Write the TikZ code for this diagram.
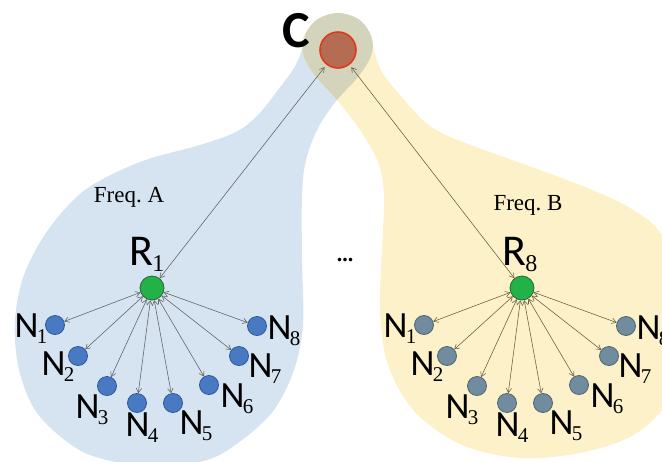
\documentclass[tikz,border=0pt]{standalone}
\usepackage{fontspec}
\setmainfont{Liberation Serif}
\newfontfamily\calib{Carlito}
\usetikzlibrary{arrows.meta}
\definecolor{blobblue}{RGB}{214,227,241}
\definecolor{blobyel}{RGB}{252,241,200}
\definecolor{blobmix}{RGB}{212,211,187}
\definecolor{nblue}{RGB}{72,122,196}
\definecolor{nbluedk}{RGB}{48,88,150}
\definecolor{ngray}{RGB}{112,140,158}
\definecolor{ngraydk}{RGB}{78,102,118}
\definecolor{rgreen}{RGB}{34,178,72}
\definecolor{rgreendk}{RGB}{40,100,60}
\definecolor{cfill}{RGB}{182,108,82}
\definecolor{cborder}{RGB}{222,58,32}
\definecolor{arrgray}{RGB}{95,95,95}
\definecolor{arrolive}{RGB}{105,92,60}
\newcommand\bluepath{plot[smooth cycle,tension=0.55] coordinates {(338,13) (318,19) (306,33) (302,50) (294,68) (278,90) (258,115) (236,132) (200,145) (140,162) (85,190) (48,230) (24,275) (15,320) (18,365) (32,405) (55,432) (90,455) (150,467) (207,460) (242,440) (274,410) (294,370) (303,325) (302,260) (302,195) (306,160) (318,128) (337,100) (358,77) (371,56) (372,38) (360,20)}}
\newcommand\yelpath{plot[smooth cycle,tension=0.55] coordinates {(338,13) (358,19) (370,33) (374,50) (382,72) (400,95) (425,122) (448,136) (490,152) (540,170) (590,189) (630,208) (662,235) (690,300) (685,370) (662,410) (630,437) (580,453) (520,458) (462,445) (415,412) (388,365) (380,310) (382,250) (384,195) (378,162) (360,130) (337,100) (316,77) (304,57) (303,38) (316,20)}}
\newcommand\nlab[1]{{\calib\fontsize{37}{37}\selectfont N}\kern-1.5pt\raisebox{-6pt}{\fontsize{21}{21}\selectfont #1}}
\newcommand\rlab[1]{{\calib\fontsize{44}{44}\selectfont R}\kern-1pt\raisebox{-6pt}{\fontsize{24}{24}\selectfont #1}}
\tikzset{
  nb/.style={circle,inner sep=0pt,minimum size=19pt,fill=nblue,draw=nbluedk,line width=0.8pt},
  ng/.style={circle,inner sep=0pt,minimum size=19pt,fill=ngray,draw=ngraydk,line width=0.8pt},
  rn/.style={circle,inner sep=0pt,minimum size=24pt,fill=rgreen,draw=rgreendk,line width=0.8pt},
  cn/.style={circle,inner sep=0pt,minimum size=36pt,fill=cfill,draw=cborder,line width=1.6pt},
  lab/.style={inner sep=0pt,anchor=center},
  arrl/.style={line width=0.55pt,draw=arrgray,{Straight Barb[length=4.5pt,width=5.5pt]}-{Straight Barb[length=4.5pt,width=5.5pt]}},
  arrr/.style={line width=0.55pt,draw=arrolive,{Straight Barb[length=4.5pt,width=5.5pt]}-{Straight Barb[length=4.5pt,width=5.5pt]}},
  freq/.style={inner sep=0pt,font=\fontsize{23}{23}\selectfont}
}
\begin{document}
\begin{tikzpicture}[x=1pt,y=-1pt]
\useasboundingbox (0,0) rectangle (662,461);
\begin{scope}
\clip (0,0) rectangle (662,461);
\fill[blobblue] \bluepath;
\fill[blobyel] \yelpath;
\begin{scope}
\clip \bluepath;
\fill[blobmix] \yelpath;
\end{scope}
\end{scope}
% central node
\node[cn] (C) at (338,50) {};
\node[lab,font=\calib\bfseries\fontsize{52}{52}\selectfont] (Clab) at (296,31) {C};
% left cluster
\node[rn] (R1) at (152,288) {};
\node[lab] (R1lab) at (147,254) {\rlab{1}};
\foreach \i/\x/\y/\lx/\ly in {1/55/325/31/329, 2/78/356/58/367, 3/107/386/92/410, 4/137/403/142/428, 5/173/403/196/426, 6/209/385/237/399, 7/239/356/265/369, 8/257/326/284/331}{
  \node[nb] (a\i) at (\x,\y) {};
  \node[lab] (al\i) at (\lx,\ly) {\nlab{\i}};
  \draw[arrl] (R1) -- (a\i);
}
% right cluster
\node[rn] (R8) at (522,288) {};
\node[lab] (R8lab) at (520,254) {\rlab{8}};
\foreach \i/\x/\y/\lx/\ly in {1/424/325/400/329, 2/447/356/427/367, 3/477/386/462/410, 4/507/403/512/428, 5/543/403/566/426, 6/579/385/607/399, 7/609/356/635/369, 8/626/326/653/331}{
  \node[ng] (b\i) at (\x,\y) {};
  \node[lab] (bl\i) at (\lx,\ly) {\nlab{\i}};
  \draw[arrr] (R8) -- (b\i);
}
\draw[arrl,shorten <=3pt] (C) -- (R1);
\draw[arrr,shorten <=3pt] (C) -- (R8);
\node[freq] (fa) at (129,197) {Freq.\ A};
\node[freq] (fb) at (528,205) {Freq.\ B};
\node[lab,font=\bfseries\fontsize{22}{22}\selectfont] (dots) at (345,260) {...};
\end{tikzpicture}
\end{document}
